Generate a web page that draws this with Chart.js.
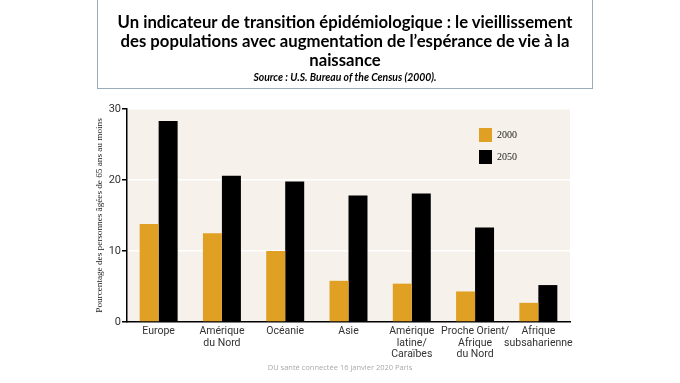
<!DOCTYPE html>
<html>
<head>
<meta charset="utf-8">
<script src="https://cdn.jsdelivr.net/npm/chart.js@4/dist/chart.umd.min.js"></script>
<style>
  html, body { margin: 0; padding: 0; background: #fff; }
  #wrap { position: relative; width: 680px; height: 383px; overflow: hidden; }
  #chart { position: absolute; left: 0; top: 0; }
  #titleBox {
    position: absolute; left: 97px; top: -1px; width: 494px; height: 88px;
    border: 1px solid #9aabba; box-sizing: content-box;
    text-align: center; font-family: Lato, "Open Sans", sans-serif; color: #000;
  }
  #titleBox .t { font-weight: bold; font-size: 16.7px; line-height: 19px; margin-top: 13px; }
  #titleBox .s { font-weight: bold; font-style: italic; font-size: 10.4px; line-height: 12px; margin-top: 1px; }
  #footer {
    position: absolute; left: 0; width: 680px; top: 362px; text-align: center;
    font-family: "Open Sans", sans-serif; font-size: 7.5px; color: #aaa;
  }
</style>
</head>
<body>
<div id="wrap">
  <canvas id="chart" width="680" height="383"></canvas>
  <div id="titleBox">
    <div class="t">Un indicateur de transition épidémiologique : le vieillissement<br>des populations avec augmentation de l’espérance de vie à la<br>naissance</div>
    <div class="s">Source : U.S. Bureau of the Census (2000).</div>
  </div>
  <div id="footer">DU santé connectée 16 janvier 2020 Paris</div>
</div>
<script>
// regions (x axis labels, multiline)
const regions = [
  ['Europe'],
  ['Amérique', 'du Nord'],
  ['Océanie'],
  ['Asie'],
  ['Amérique', 'latine/', 'Caraïbes'],
  ['Proche Orient/', 'Afrique', 'du Nord'],
  ['Afrique', 'subsaharienne'],
];
const years = ['2000', '2050'];
const share2000 = [13.8, 12.5, 10.0, 5.8, 5.4, 4.3, 2.7];
const share2050 = [28.3, 20.6, 19.8, 17.8, 18.1, 13.3, 5.2];
const yTicks = [0, 10, 20, 30];

// cream plot background
const plotBackground = {
  id: 'plotBackground',
  beforeDraw: (chart) => {
    const { ctx, chartArea: a } = chart;
    ctx.save();
    ctx.fillStyle = '#f6f1ea';
    ctx.fillRect(a.left, a.top, a.right - a.left, a.bottom - a.top);
    ctx.restore();
  },
};

// small vertical legend inside the plot, top right
const insideLegend = {
  id: 'insideLegend',
  afterDatasetsDraw: (chart) => {
    const { ctx, chartArea: a } = chart;
    ctx.save();
    chart.data.datasets.forEach((ds, i) => {
      const x = a.right - 91;
      const y = a.top + 19 + i * 22;
      ctx.fillStyle = ds.backgroundColor;
      ctx.fillRect(x, y, 13, 14);
      ctx.fillStyle = '#222';
      ctx.font = '10px "Liberation Serif", serif';
      ctx.textBaseline = 'middle';
      ctx.fillText(ds.label, x + 18, y + 7);
    });
    ctx.restore();
  },
};

new Chart(document.getElementById('chart'), {
  type: 'bar',
  data: {
    labels: regions,
    datasets: [
      { label: years[0], data: share2000, backgroundColor: '#dfa024' },
      { label: years[1], data: share2050, backgroundColor: '#000000' },
    ],
  },
  options: {
    responsive: false,
    animation: false,
    layout: { padding: { left: 87, right: 110, top: 109, bottom: 6 } },
    plugins: { legend: { display: false }, tooltip: { enabled: false } },
    datasets: { bar: { categoryPercentage: 0.6, barPercentage: 1.0 } },
    scales: {
      x: {
        grid: { display: false, drawTicks: false },
        border: { color: '#000', width: 1.5 },
        ticks: {
          color: '#333',
          padding: 4,
          maxRotation: 0,
          autoSkip: false,
          font: { family: 'Roboto, "Open Sans", sans-serif', size: 10.5, lineHeight: 1.08 },
        },
        afterFit: (scale) => { scale.height = 55; },
      },
      y: {
        min: 0,
        max: 30,
        afterBuildTicks: (scale) => { scale.ticks = yTicks.map((v) => ({ value: v })); },
        grid: { color: '#ffffff', lineWidth: 1.5, tickColor: '#000', tickLength: 5 },
        border: { color: '#000', width: 1.5 },
        ticks: {
          color: '#333',
          padding: 1,
          font: { family: 'Roboto, "Open Sans", sans-serif', size: 11 },
        },
        title: {
          display: true,
          text: 'Pourcentage des personnes âgées de 65 ans au moins',
          color: '#222',
          padding: { top: 7, bottom: 0 },
          font: { family: '"Liberation Serif", serif', size: 9.2 },
        },
        afterFit: (scale) => { scale.width = 40; },
      },
    },
  },
  plugins: [plotBackground, insideLegend],
});
</script>
</body>
</html>
